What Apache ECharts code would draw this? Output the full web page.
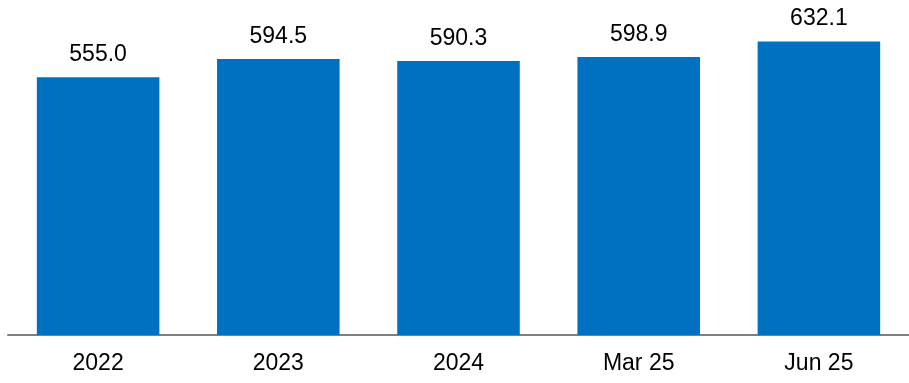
<!DOCTYPE html>
<html>
<head>
<meta charset="utf-8">
<script src="https://cdn.jsdelivr.net/npm/echarts@6/dist/echarts.min.js"></script>
<style>
  html, body { margin: 0; padding: 0; background: #fff; }
  #chart { width: 909px; height: 383px; }
</style>
</head>
<body>
<div id="chart"></div>
<script>
const categories = ['2022', '2023', '2024', 'Mar 25', 'Jun 25'];
const values = [555.0, 594.5, 590.3, 598.9, 632.1];

const chart = echarts.init(document.getElementById('chart'));
chart.setOption({
  animation: false,
  grid: { left: 8, width: 905, top: 10, bottom: 48 },
  xAxis: {
    type: 'category',
    data: categories,
    axisTick: { show: false },
    axisLine: { lineStyle: { color: '#7f7f7f', width: 2 } },
    axisLabel: {
      color: '#000', fontSize: 23, margin: 17,
      fontFamily: 'Liberation Sans, Arial, sans-serif'
    }
  },
  yAxis: {
    type: 'value', min: 0, max: 700, show: false,
    splitLine: { show: false }
  },
  series: [{
    type: 'bar',
    data: values,
    barCategoryGap: '32%',
    itemStyle: { color: '#0070C0' },
    label: {
      show: true, position: 'top', distance: 11,
      color: '#000', fontSize: 23,
      fontFamily: 'Liberation Sans, Arial, sans-serif',
      formatter: (p) => p.value.toFixed(1)
    }
  }]
});
</script>
</body>
</html>
